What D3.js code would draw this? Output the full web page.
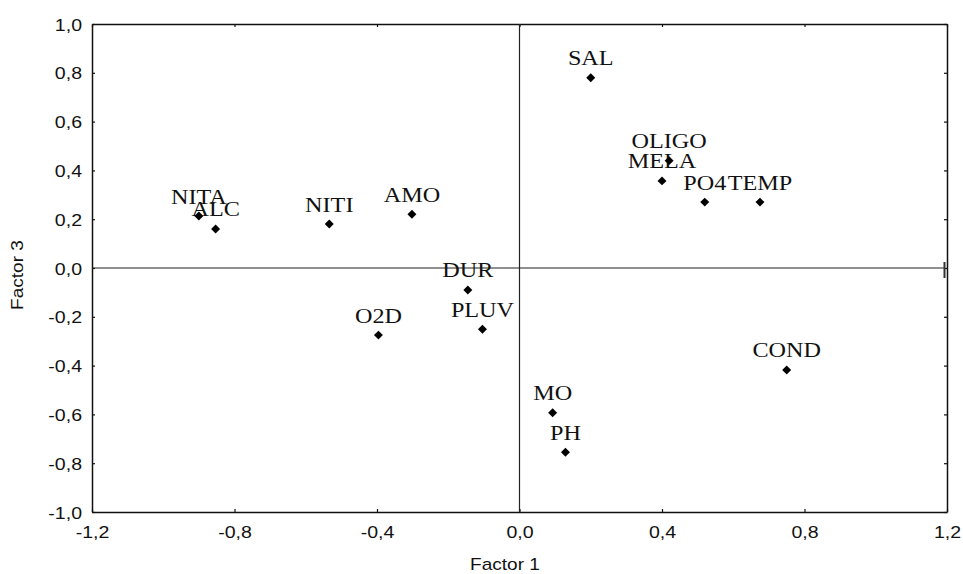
<!DOCTYPE html>
<html>
<head>
<meta charset="utf-8">
<script src="https://cdn.jsdelivr.net/npm/d3@7"></script>
<style>
  html, body { margin: 0; padding: 0; background: #fff; }
  svg { display: block; }
</style>
</head>
<body>
<svg id="chart" width="963" height="574"></svg>
<script>
// Variable loadings on factor 1 (x) and factor 3 (y)
const variables = ["SAL", "OLIGO", "MELA", "PO4", "TEMP", "NITA", "ALC", "NITI", "AMO",
                   "DUR", "PLUV", "O2D", "MO", "PH", "COND"];
const factor1 = [0.20, 0.42, 0.40, 0.52, 0.675, -0.90, -0.853, -0.534, -0.302,
                 -0.145, -0.104, -0.396, 0.093, 0.129, 0.75];
const factor3 = [0.78, 0.44, 0.357, 0.27, 0.27, 0.213, 0.16, 0.18, 0.22,
                 -0.09, -0.251, -0.275, -0.593, -0.755, -0.418];

const xTicks = [-1.2, -0.8, -0.4, 0.0, 0.4, 0.8, 1.2];
const yTicks = [-1.0, -0.8, -0.6, -0.4, -0.2, 0.0, 0.2, 0.4, 0.6, 0.8, 1.0];

const svg = d3.select("#chart");
const plotLeft = 92, plotRight = 947, plotTop = 24, plotBottom = 512;

const x = d3.scaleLinear().domain([-1.2, 1.2]).range([plotLeft, plotRight]);
const y = d3.scaleLinear().domain([-1.0, 1.0]).range([plotBottom, plotTop]);

const fmt = v => d3.format(".1f")(v).replace(".", ",").replace("−", "-");
const sansFont = "'Liberation Sans', Arial, sans-serif";
const serifFont = "'Liberation Serif', 'Times New Roman', serif";

// Frame axes with inward ticks on all four sides
const axisStyle = g => {
  g.select(".domain").attr("stroke", "#111").attr("stroke-width", 1.5);
  g.selectAll(".tick line").attr("stroke", "#111").attr("stroke-width", 1.2);
};

const bottomAxis = svg.append("g")
  .attr("transform", `translate(0,${plotBottom})`)
  .call(d3.axisBottom(x).tickValues(xTicks).tickSizeInner(-3).tickSizeOuter(0).tickFormat(fmt))
  .call(axisStyle);
bottomAxis.selectAll(".tick text")
  .attr("y", 26).attr("dy", null)
  .attr("font-family", sansFont).attr("font-size", 17).attr("fill", "#111");

const leftAxis = svg.append("g")
  .attr("transform", `translate(${plotLeft},0)`)
  .call(d3.axisLeft(y).tickValues(yTicks).tickSizeInner(-3).tickSizeOuter(0).tickFormat(fmt))
  .call(axisStyle);
leftAxis.selectAll(".tick text")
  .attr("x", -10).attr("dy", "0.36em")
  .attr("font-family", sansFont).attr("font-size", 17).attr("fill", "#111");

svg.append("g")
  .attr("transform", `translate(0,${plotTop})`)
  .call(d3.axisTop(x).tickValues(xTicks).tickSizeInner(-3).tickSizeOuter(0).tickFormat(""))
  .call(axisStyle);

svg.append("g")
  .attr("transform", `translate(${plotRight},0)`)
  .call(d3.axisRight(y).tickValues(yTicks).tickSizeInner(-3).tickSizeOuter(0).tickFormat(""))
  .call(axisStyle);

// Stretch tick labels slightly wider
[bottomAxis, leftAxis].forEach(ax => {
  ax.selectAll(".tick text").each(function () {
    const t = d3.select(this);
    const tx = +t.attr("x") || 0;
    t.attr("transform", `translate(${tx},0) scale(1.15,1) translate(${-tx},0)`);
  });
});

// Zero reference lines
svg.append("line")
  .attr("x1", x(-1.2)).attr("x2", x(1.2) - 2)
  .attr("y1", y(0)).attr("y2", y(0))
  .attr("stroke", "#222").attr("stroke-width", 1.2);
svg.append("line")
  .attr("x1", x(1.2) - 2.5).attr("x2", x(1.2) - 2.5)
  .attr("y1", y(0) - 6).attr("y2", y(0) + 10)
  .attr("stroke", "#333").attr("stroke-width", 2);
svg.append("line")
  .attr("x1", x(0)).attr("x2", x(0))
  .attr("y1", y(1.0)).attr("y2", y(-1.0))
  .attr("stroke", "#222").attr("stroke-width", 1.2);

// Axis titles
svg.append("text")
  .attr("transform", "translate(505,570) scale(1.12,1)")
  .attr("text-anchor", "middle")
  .attr("font-family", sansFont).attr("font-size", 17).attr("fill", "#111")
  .text("Factor 1");
svg.append("text")
  .attr("transform", "translate(23,275) rotate(-90) scale(1.12,1)")
  .attr("text-anchor", "middle")
  .attr("font-family", sansFont).attr("font-size", 17).attr("fill", "#111")
  .text("Factor 3");

// Points and labels
const pts = variables.map((name, i) => ({ name, fx: factor1[i], fy: factor3[i] }));

// Labels first so the markers sit on top
svg.append("g").selectAll("text")
  .data(pts)
  .join("text")
  .attr("transform", d => `translate(${x(d.fx)},${y(d.fy) - 12.5}) scale(1.1,1)`)
  .attr("text-anchor", "middle")
  .attr("font-family", serifFont).attr("font-size", 22).attr("fill", "#111")
  .text(d => d.name);

const diamond = d3.symbol().type(d3.symbolSquare).size(40);
svg.append("g").selectAll("path")
  .data(pts)
  .join("path")
  .attr("d", diamond)
  .attr("transform", d => `translate(${x(d.fx)},${y(d.fy)}) rotate(45)`)
  .attr("fill", "#000");
</script>
</body>
</html>
